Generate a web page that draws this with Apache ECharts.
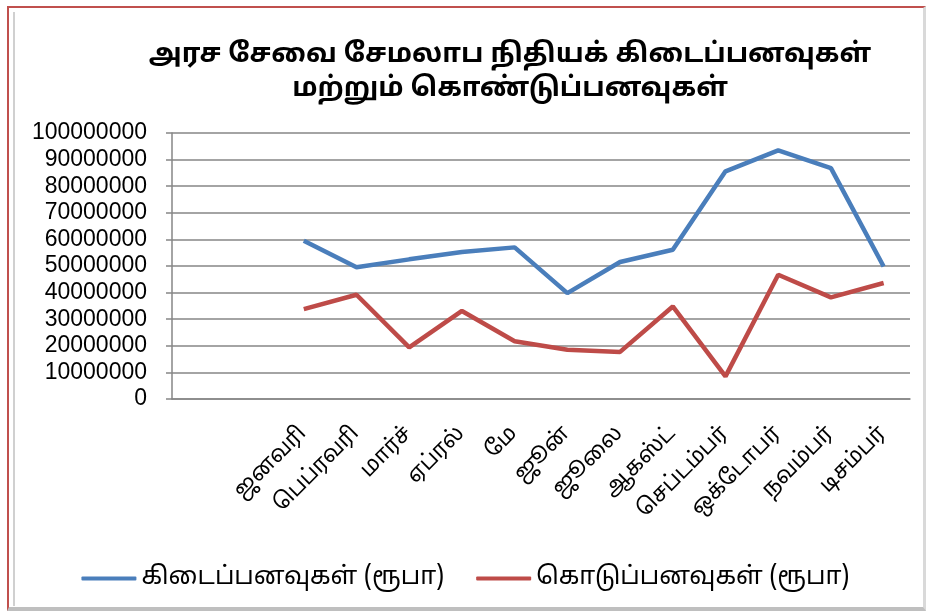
<!DOCTYPE html>
<html>
<head>
<meta charset="utf-8">
<script src="https://cdn.jsdelivr.net/npm/echarts@6/dist/echarts.min.js"></script>
<style>
  html, body { margin: 0; padding: 0; background: #fff; }
  #frame {
    position: absolute; left: 7px; top: 6px; width: 914px; height: 599px;
    border-left: 2px solid #c0504d; border-top: 2px solid #c0504d;
    border-right: 3px solid #d9d9d9; border-bottom: 4px solid #bfbfbf;
  }
  #inner { position: absolute; left: 13px; top: 12px; width: 2px; height: 594px; background: #d0d0d0; }
  #chart { position: absolute; left: 0; top: 0; width: 931px; height: 612px; }
</style>
</head>
<body>
<div id="frame"></div>
<div id="inner"></div>
<div id="chart"></div>
<script>
// இரண்டு வெற்று வகைகள், பிறகு 12 மாதங்கள்
const months = ['', '', 'ஜனவரி', 'பெப்ரவரி', 'மார்ச்', 'ஏப்ரல்', 'மே', 'ஜூன்',
  'ஜூலை', 'ஆகஸ்ட்', 'செப்டம்பர்', 'ஒக்டோபர்', 'நவம்பர்', 'டிசம்பர்']
const receipts = [null, null, 59500000, 49500000, 52500000, 55300000, 57000000, 39800000,
  51500000, 56100000, 85600000, 93500000, 86800000, 49800000]
const payments = [null, null, 33800000, 39200000, 19400000, 33100000, 21700000, 18500000,
  17700000, 34800000, 8500000, 46700000, 38200000, 43600000]
const seriesNames = ['கிடைப்பனவுகள் (ரூபா)', 'கொடுப்பனவுகள் (ரூபா)']
const titleText = 'அரச சேவை சேமலாப நிதியக் கிடைப்பனவுகள்\nமற்றும் கொண்டுப்பனவுகள்'

const font = '"Noto Sans Tamil", "Latha", "Noto Sans", "Liberation Sans", sans-serif'
const chart = echarts.init(document.getElementById('chart'))

chart.setOption({
  animation: false,
  title: {
    text: titleText,
    left: 505, top: 35, textAlign: 'center',
    textStyle: { fontFamily: font, fontSize: 27, fontWeight: 'bold', color: '#000', lineHeight: 34 }
  },
  legend: {
    bottom: 16, left: 'center', itemWidth: 55, itemHeight: 4, itemGap: 32,
    icon: 'roundRect',
    textStyle: { fontFamily: font, fontSize: 25, color: '#000' },
    data: seriesNames
  },
  grid: { left: 172, right: 21, top: 133, bottom: 213 },
  xAxis: {
    type: 'category',
    data: months,
    boundaryGap: true,
    axisLine: { lineStyle: { color: '#868686', width: 1.5 } },
    axisTick: { interval: 0, length: 6, lineStyle: { color: '#868686', width: 1.5 } },
    axisLabel: {
      interval: 0, rotate: 45, margin: 32,
      fontFamily: font, fontSize: 22, color: '#000'
    }
  },
  yAxis: {
    type: 'value',
    min: 0, max: 100000000, interval: 10000000,
    axisLine: { show: true, lineStyle: { color: '#868686', width: 1.5 } },
    axisTick: { show: true, length: 6, lineStyle: { color: '#868686', width: 1.5 } },
    splitLine: { lineStyle: { color: '#868686', width: 1.5 } },
    axisLabel: {
      margin: 25, fontFamily: '"Liberation Sans", sans-serif', fontSize: 23, color: '#000',
      formatter: v => String(v)
    }
  },
  series: [
    {
      name: seriesNames[0], type: 'line', data: receipts,
      symbol: 'none', lineStyle: { width: 4.5, color: '#4a7ebb' }, itemStyle: { color: '#4a7ebb' }
    },
    {
      name: seriesNames[1], type: 'line', data: payments,
      symbol: 'none', lineStyle: { width: 4.5, color: '#be4b48' }, itemStyle: { color: '#be4b48' }
    }
  ]
})
</script>
</body>
</html>
